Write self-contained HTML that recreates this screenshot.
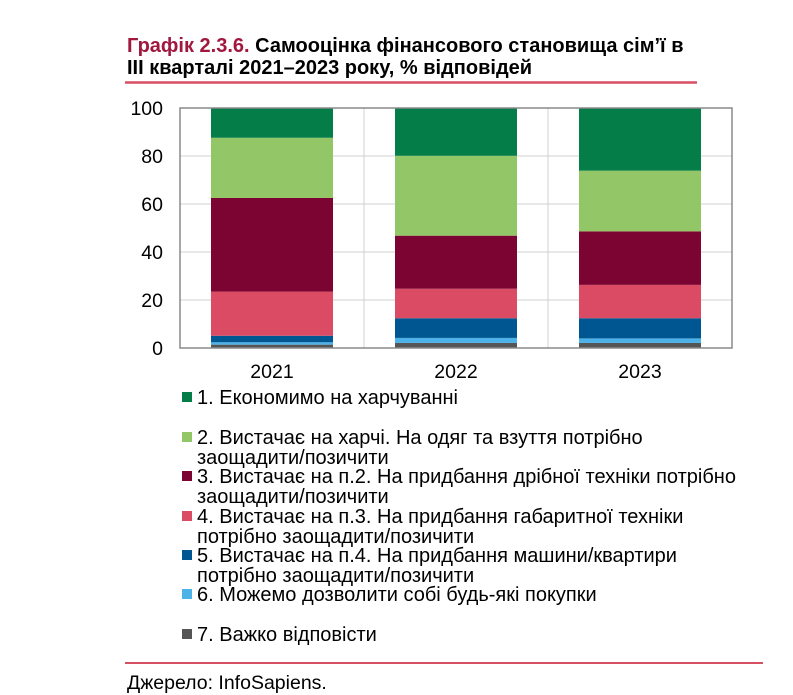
<!DOCTYPE html>
<html><head><meta charset="utf-8"><style>
body{margin:0;background:#fff;width:793px;height:695px;overflow:hidden;font-family:"Liberation Sans",sans-serif;}
</style></head><body>
<svg width="793" height="695" style="position:absolute;left:0;top:0" font-family="Liberation Sans, sans-serif">
<text x="127" y="52" font-size="20" font-weight="bold"><tspan fill="#A1173E">Графік 2.3.6.</tspan><tspan fill="#000"> Самооцінка фінансового становища сім’ї в</tspan></text>
<text x="127" y="74" font-size="20" font-weight="bold" fill="#000">ІІІ кварталі 2021–2023 року, % відповідей</text>
<line x1="125" y1="82.5" x2="697" y2="82.5" stroke="#D64F63" stroke-width="2.5"/>
<g id="plot"></g>
<g id="legend"></g>
<line x1="125" y1="663" x2="763" y2="663" stroke="#D64F63" stroke-width="2"/>
<text x="127" y="689" font-size="19.5" fill="#000">Джерело: InfoSapiens.</text>
</svg>
<script>
const categories=["2021","2022","2023"];
const s7=[1.4,2.1,2.1];
const s6=[1.0,2.1,1.9];
const s5=[2.7,8.2,8.4];
const s4=[18.4,12.3,13.9];
const s3=[39.0,22.1,22.3];
const s2=[25.1,33.3,25.3];
const s1=[12.4,19.9,26.1];
const yTicks=[0,20,40,60,80,100];
const seriesLabels=[
 ["1. Економимо на харчуванні"],
 ["2. Вистачає на харчі. На одяг та взуття потрібно","заощадити/позичити"],
 ["3. Вистачає на п.2. На придбання дрібної техніки потрібно","заощадити/позичити"],
 ["4. Вистачає на п.3. На придбання габаритної техніки","потрібно заощадити/позичити"],
 ["5. Вистачає на п.4. На придбання машини/квартири","потрібно заощадити/позичити"],
 ["6. Можемо дозволити собі будь-які покупки"],
 ["7. Важко відповісти"]];
const colors=["#057D49","#93C666","#7B0432","#DB4B63","#005691","#4DB2E8","#555555"];
const stackOrder=[s7,s6,s5,s4,s3,s2,s1];
const stackColors=[colors[6],colors[5],colors[4],colors[3],colors[2],colors[1],colors[0]];
const NS="http://www.w3.org/2000/svg";
const L=180,R=732,T=108,B=348;
const y=v=>B-(v/100)*(B-T);
const band=(R-L)/categories.length;
const x=i=>L+band*i;
const bw=122;
function mk(tag,attrs,parent){const e=document.createElementNS(NS,tag);for(const k in attrs)e.setAttribute(k,attrs[k]);parent.appendChild(e);return e;}
const plot=document.getElementById('plot');
yTicks.forEach(t=>{
 const g=mk('line',{x1:L,x2:R,y1:y(t),y2:y(t),stroke:'#d0d0d0','stroke-width':1},plot);
 
 
 const tx=mk('text',{x:163,y:y(t)+7,'font-size':19.5,'text-anchor':'end',fill:'#000'},plot);
 tx.textContent=t;
 
 
});
for(let i=1;i<categories.length;i++){
 const v=mk('line',{x1:x(i),x2:x(i),y1:T,y2:B,stroke:'#d0d0d0','stroke-width':1},plot);
 
 
}
categories.forEach((c,i)=>{
 let cum=0;
 const bx=x(i)+(band-bw)/2;
 stackOrder.forEach((s,k)=>{
  const r=mk('rect',{x:bx,y:y(cum+s[i]),width:bw,height:y(cum)-y(cum+s[i]),fill:stackColors[k]},plot);
  
  
  cum+=s[i];
 });
 const t=mk('text',{x:x(i)+band/2,y:B+30,'font-size':19.5,'text-anchor':'middle',fill:'#000'},plot);
 t.textContent=c;
 
 
});
const fr=mk('rect',{x:L,y:T,width:R-L,height:B-T,fill:'none',stroke:'#8a8a8a','stroke-width':1.5},plot);


const leg=document.getElementById('legend');
const legY=[397,437,476,516,555,594,634];
seriesLabels.forEach((lines,i)=>{
 const g=mk('g',{},leg);
 
 
 mk('rect',{x:182,y:legY[i]-5,width:10,height:10,fill:colors[i]},g);
 lines.forEach((ln,j)=>{
  const t=mk('text',{x:197,y:legY[i]+7+j*20,'font-size':20,fill:'#000'},g);
  t.textContent=ln;
 });
});
</script>
</body></html>
